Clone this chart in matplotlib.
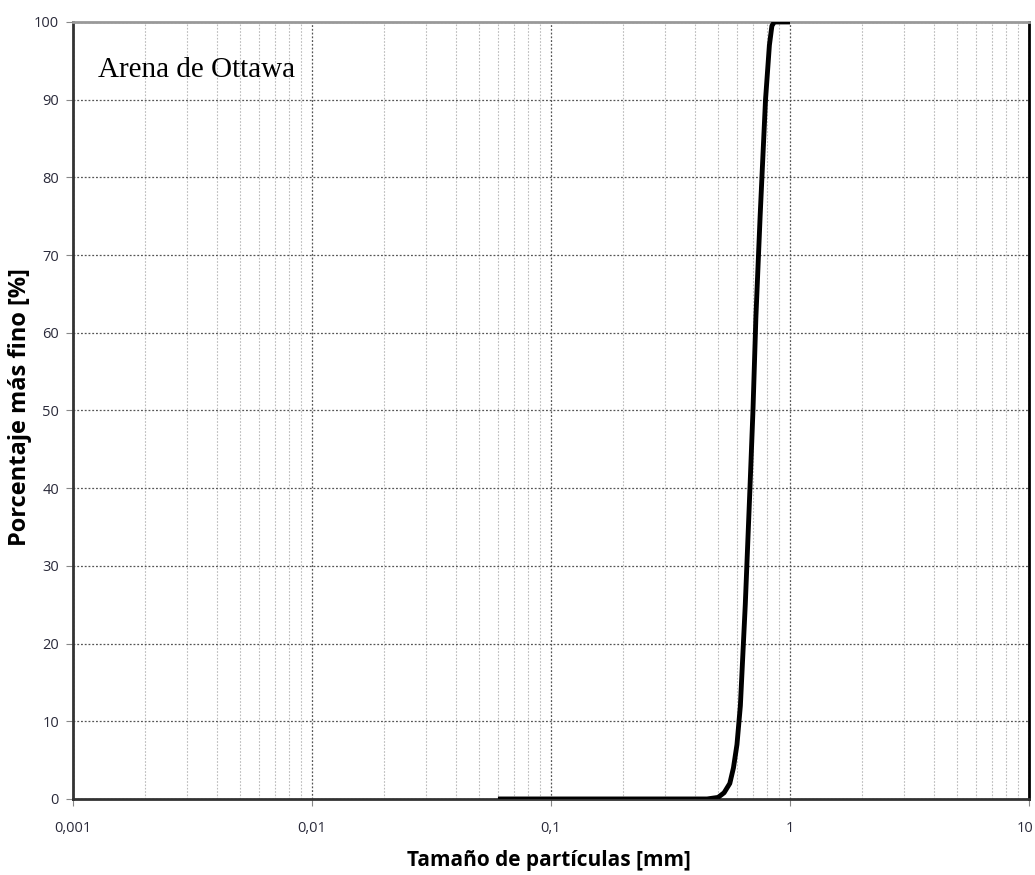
import numpy as np
import matplotlib
matplotlib.use("Agg")
import matplotlib.pyplot as plt
import matplotlib.transforms as mtransforms
from matplotlib.ticker import LogLocator, FixedLocator, FixedFormatter, NullFormatter

# curva granulometrica
tamano = [0.06, 0.2, 0.45, 0.50, 0.53, 0.56, 0.58, 0.60, 0.62, 0.65, 0.68,
          0.70, 0.72, 0.75, 0.79, 0.82, 0.84, 0.86, 1.0]
pasa = [0, 0, 0, 0.2, 0.8, 2, 4, 7, 12, 25, 40,
        50, 62, 75, 90, 97, 99.5, 100, 100]

xticks = [0.001, 0.01, 0.1, 1, 10]
xlabels = ['0,001', '0,01', '0,1', '1', '10']
yticks = list(range(0, 101, 10))

fig = plt.figure(figsize=(10.35, 8.75), dpi=100)
ax = fig.add_axes([0.0705, 0.0869, 0.9237, 0.888])

ax.plot(tamano, pasa, color='black', lw=3.5, solid_capstyle='butt', zorder=3)

ax.set_xscale('log')
ax.set_xlim(0.001, 10)
ax.set_ylim(0, 100)

ax.xaxis.set_major_locator(FixedLocator(xticks))
ax.xaxis.set_major_formatter(FixedFormatter(xlabels))
ax.xaxis.set_minor_locator(LogLocator(base=10, subs=np.arange(2, 10)))
ax.xaxis.set_minor_formatter(NullFormatter())
ax.set_yticks(yticks)

ax.grid(which='major', axis='both', color='#555555', ls=(0, (1.5, 1.5)), lw=0.9)
ax.grid(which='minor', axis='x', color='#bbbbbb', ls=(0, (1.5, 1.5)), lw=0.8)

ax.tick_params(axis='x', which='major', direction='out', length=5, pad=11,
               labelsize=10.5, color='#888888', labelcolor='#2a2a3a')
ax.tick_params(axis='x', which='minor', length=0)
ax.tick_params(axis='y', direction='out', length=5, pad=5,
               labelsize=10.5, color='#888888', labelcolor='#2a2a3a')
for lab in ax.get_xticklabels() + ax.get_yticklabels():
    lab.set_family(['Open Sans', 'DejaVu Sans'])

# el "10" queda pegado al borde derecho
last = ax.get_xticklabels()[-1]
last.set_transform(last.get_transform() +
                   mtransforms.ScaledTranslation(-4 / 100, 0, fig.dpi_scale_trans))

ax.spines['left'].set_color('#333333')
ax.spines['left'].set_linewidth(2)
ax.spines['bottom'].set_color('#333333')
ax.spines['bottom'].set_linewidth(2)
ax.spines['top'].set_color('#999999')
ax.spines['top'].set_linewidth(2)
ax.spines['right'].set_color('black')
ax.spines['right'].set_linewidth(2)

fig.text(0.5300, 0.017, 'Tamaño de partículas [mm]', fontsize=15,
         fontweight='bold', family=['Open Sans', 'DejaVu Sans'],
         ha='center', va='center')
fig.text(0.0195, 0.535, 'Porcentaje más fino [%]', fontsize=17,
         fontweight='bold', family=['Open Sans', 'DejaVu Sans'],
         ha='center', va='center', rotation=90)

ax.text(0.026, 0.955, 'Arena de Ottawa', transform=ax.transAxes,
        fontsize=21, family=['Liberation Serif', 'DejaVu Serif'],
        va='top', ha='left')

fig.savefig('out.png', dpi=100)
